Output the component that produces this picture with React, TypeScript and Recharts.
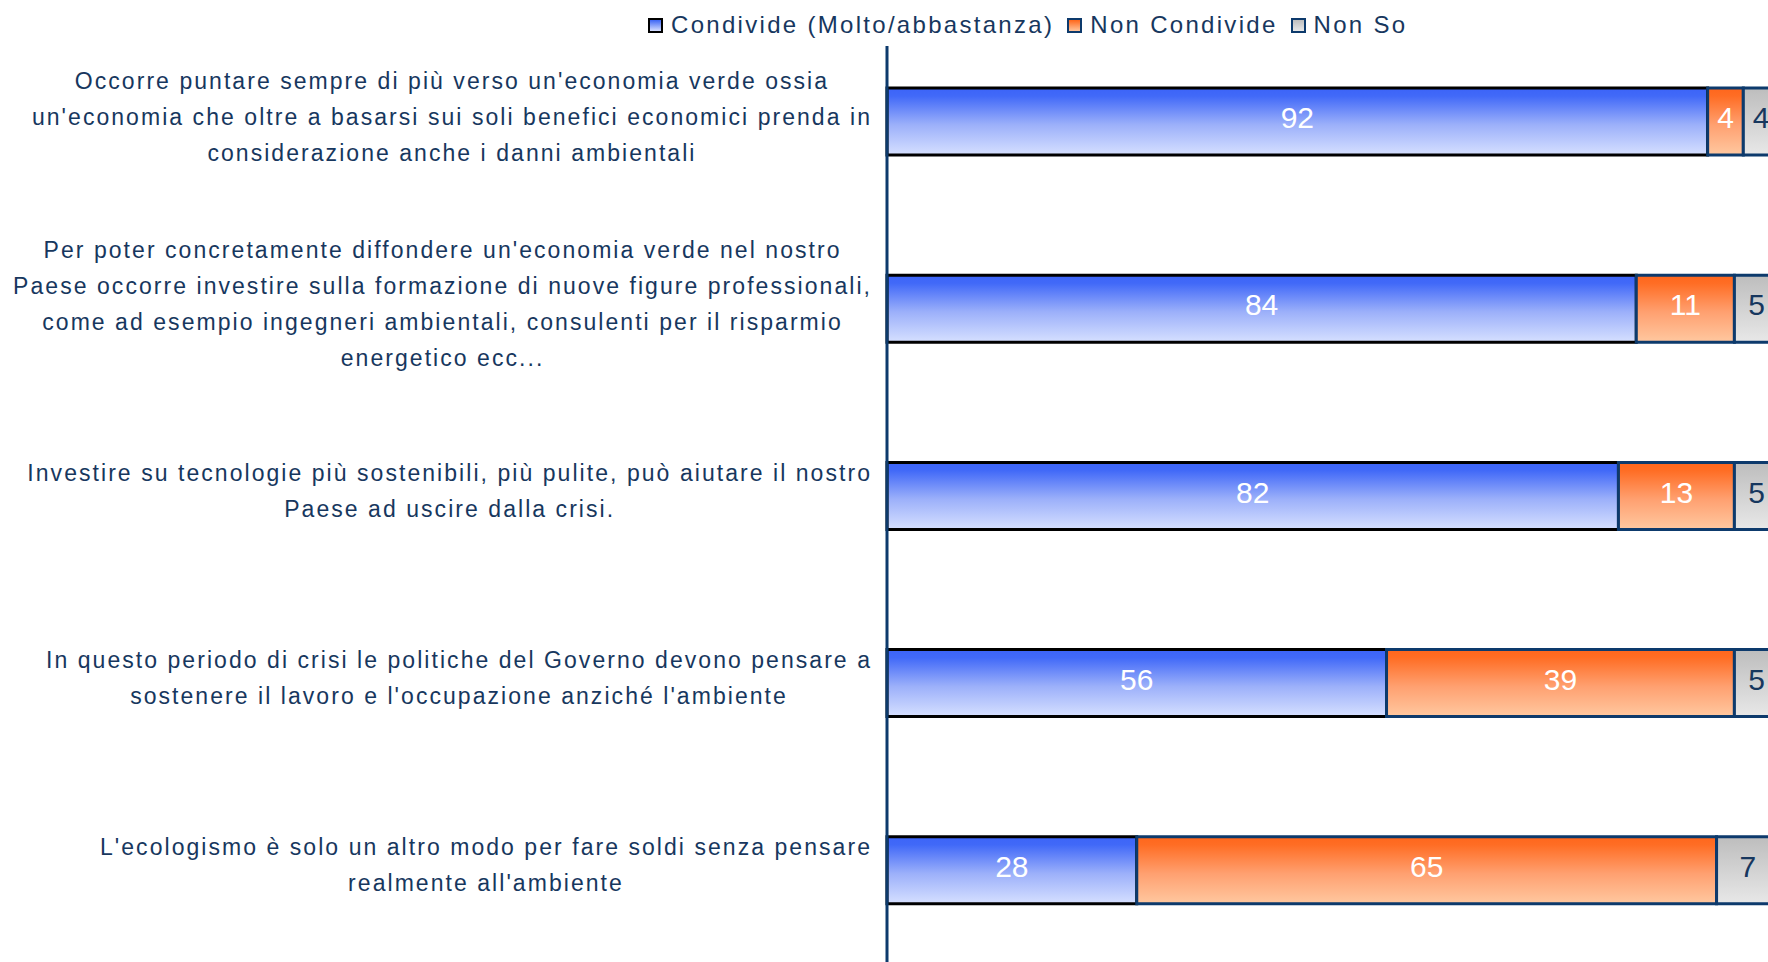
import React from 'react';
import { BarChart, Bar, XAxis, YAxis, LabelList, Legend } from 'recharts';

// ---------- data ----------
const categories: string[] = [
  "Occorre puntare sempre di più verso un'economia verde ossia un'economia che oltre a basarsi sui soli benefici economici prenda in considerazione anche i danni ambientali",
  "Per poter concretamente diffondere un'economia verde nel nostro Paese occorre investire sulla formazione di nuove figure professionali, come ad esempio ingegneri ambientali, consulenti per il risparmio energetico ecc...",
  "Investire su tecnologie più sostenibili, più pulite, può aiutare il nostro Paese ad uscire dalla crisi.",
  "In questo periodo di crisi le politiche del Governo devono pensare a sostenere il lavoro e l'occupazione anziché l'ambiente",
  "L'ecologismo è solo un altro modo per fare soldi senza pensare realmente all'ambiente",
];

const categoryLines: string[][] = [
  [
    "Occorre puntare sempre di più verso un'economia verde ossia",
    "un'economia che oltre a basarsi sui soli benefici economici prenda in",
    "considerazione anche i danni ambientali",
  ],
  [
    "Per poter concretamente diffondere un'economia verde nel nostro",
    "Paese occorre investire sulla formazione di nuove figure professionali,",
    "come ad esempio ingegneri ambientali, consulenti per il risparmio",
    "energetico ecc...",
  ],
  [
    "Investire su tecnologie più sostenibili, più pulite, può aiutare il nostro",
    "Paese ad uscire dalla crisi.",
  ],
  [
    "In questo periodo di crisi le politiche del Governo devono pensare a",
    "sostenere il lavoro e l'occupazione anziché l'ambiente",
  ],
  [
    "L'ecologismo è solo un altro modo per fare soldi senza pensare",
    "realmente all'ambiente",
  ],
];

const condivide: number[] = [92, 84, 82, 56, 28];
const nonCondivide: number[] = [4, 11, 13, 39, 65];
const nonSo: number[] = [4, 5, 5, 5, 7];

const seriesNames: string[] = ['Condivide (Molto/abbastanza)', 'Non Condivide', 'Non So'];

const data = categories.map((cat, i) => ({
  cat,
  condivide: condivide[i],
  nonCondivide: nonCondivide[i],
  nonSo: nonSo[i],
}));

// ---------- style ----------
const FONT = "'Liberation Sans', Arial, sans-serif";
const TEXT = '#17375E';
const NAVY = '#0D3A6C';
const FS = 23;
const LS = 2.05;

let ctx: CanvasRenderingContext2D | null = null;
function measure(s: string): number {
  if (!ctx) ctx = document.createElement('canvas').getContext('2d');
  if (!ctx) return s.length * 12;
  ctx.font = `${FS}px 'Liberation Sans', Arial, sans-serif`;
  return ctx.measureText(s).width + LS * s.length;
}

const CategoryTick = (props: any) => {
  const { x, y, payload } = props;
  const idx = categories.indexOf(payload.value);
  const lines = idx >= 0 ? categoryLines[idx] : [String(payload.value)];
  const maxW = Math.max(...lines.map(measure));
  const cx = x - maxW / 2;
  const n = lines.length;
  return (
    <g>
      {lines.map((l, i) => (
        <text
          key={i}
          x={cx}
          y={y - 5 + (i - (n - 1) / 2) * 36}
          textAnchor="middle"
          dominantBaseline="central"
          fontSize={FS}
          letterSpacing={LS}
          fill={TEXT}
          fontFamily={FONT}
        >
          {l}
        </text>
      ))}
    </g>
  );
};

const legendFills = [
  'linear-gradient(#3D66F5, #D6DFFF)',
  'linear-gradient(#FF661A, #FFC59C)',
  'linear-gradient(#BEBEBE, #E8E8E8)',
];
const legendBorders = ['#000000', NAVY, NAVY];

const LegendContent = () => (
  <div style={{ display: 'flex', alignItems: 'center', fontFamily: FONT, fontSize: 24, letterSpacing: 2.3, color: TEXT, lineHeight: '30px', whiteSpace: 'nowrap' }}>
    {seriesNames.map((name, i) => (
      <div key={name} style={{ display: 'flex', alignItems: 'center', marginRight: 13 }}>
        <span
          style={{
            display: 'inline-block',
            width: 11,
            height: 11,
            border: `2px solid ${legendBorders[i]}`,
            background: legendFills[i],
            marginRight: 8,
          }}
        />
        <span>{name}</span>
      </div>
    ))}
  </div>
);

export default function App() {
  return (
    <div style={{ position: 'fixed', top: 0, left: 0, width: 1768, height: 962, overflow: 'hidden', background: '#fff' }}>
      <BarChart
        width={1790}
        height={970}
        data={data}
        layout="vertical"
        margin={{ top: 28, right: 11, bottom: 6, left: 0 }}
      >
        <defs>
          <linearGradient id="gBlue" x1="0" y1="0" x2="0" y2="1">
            <stop offset="0%" stopColor="#3C64F8" />
            <stop offset="12%" stopColor="#4169F8" />
            <stop offset="55%" stopColor="#9CB0FA" />
            <stop offset="100%" stopColor="#D6E0FF" />
          </linearGradient>
          <linearGradient id="gOrange" x1="0" y1="0" x2="0" y2="1">
            <stop offset="0%" stopColor="#FF661C" />
            <stop offset="12%" stopColor="#FF6D24" />
            <stop offset="55%" stopColor="#FFA070" />
            <stop offset="100%" stopColor="#FFC8A0" />
          </linearGradient>
          <linearGradient id="gGrey" x1="0" y1="0" x2="0" y2="1">
            <stop offset="0%" stopColor="#BDBDBD" />
            <stop offset="100%" stopColor="#E8E8E8" />
          </linearGradient>
        </defs>
        <XAxis type="number" domain={[0, 100]} hide />
        <YAxis
          type="category"
          dataKey="cat"
          width={887}
          tickLine={false}
          tickSize={0}
          tickMargin={15}
          interval={0}
          axisLine={{ stroke: NAVY, strokeWidth: 3, strokeDasharray: '0 18 3000' }}
          tick={<CategoryTick />}
        />
        <Legend
          layout="horizontal"
          verticalAlign="middle"
          align="center"
          wrapperStyle={{ top: 10, left: 648, width: 'auto' }}
          content={() => <LegendContent />}
        />
        <Bar dataKey="condivide" name={seriesNames[0]} stackId="s" barSize={67} fill="url(#gBlue)" stroke="#000" strokeWidth={3} isAnimationActive={false}>
          <LabelList dataKey="condivide" position="center" fill="#fff" fontSize={30} fontFamily={FONT} dy={-4} />
        </Bar>
        <Bar dataKey="nonCondivide" name={seriesNames[1]} stackId="s" barSize={67} fill="url(#gOrange)" stroke={NAVY} strokeWidth={3} isAnimationActive={false}>
          <LabelList dataKey="nonCondivide" position="center" fill="#fff" fontSize={30} fontFamily={FONT} dy={-4} />
        </Bar>
        <Bar dataKey="nonSo" name={seriesNames[2]} stackId="s" barSize={67} fill="url(#gGrey)" stroke={NAVY} strokeWidth={3} isAnimationActive={false}>
          <LabelList dataKey="nonSo" position="center" fill={TEXT} fontSize={30} fontFamily={FONT} dy={-4} />
        </Bar>
      </BarChart>
    </div>
  );
}
